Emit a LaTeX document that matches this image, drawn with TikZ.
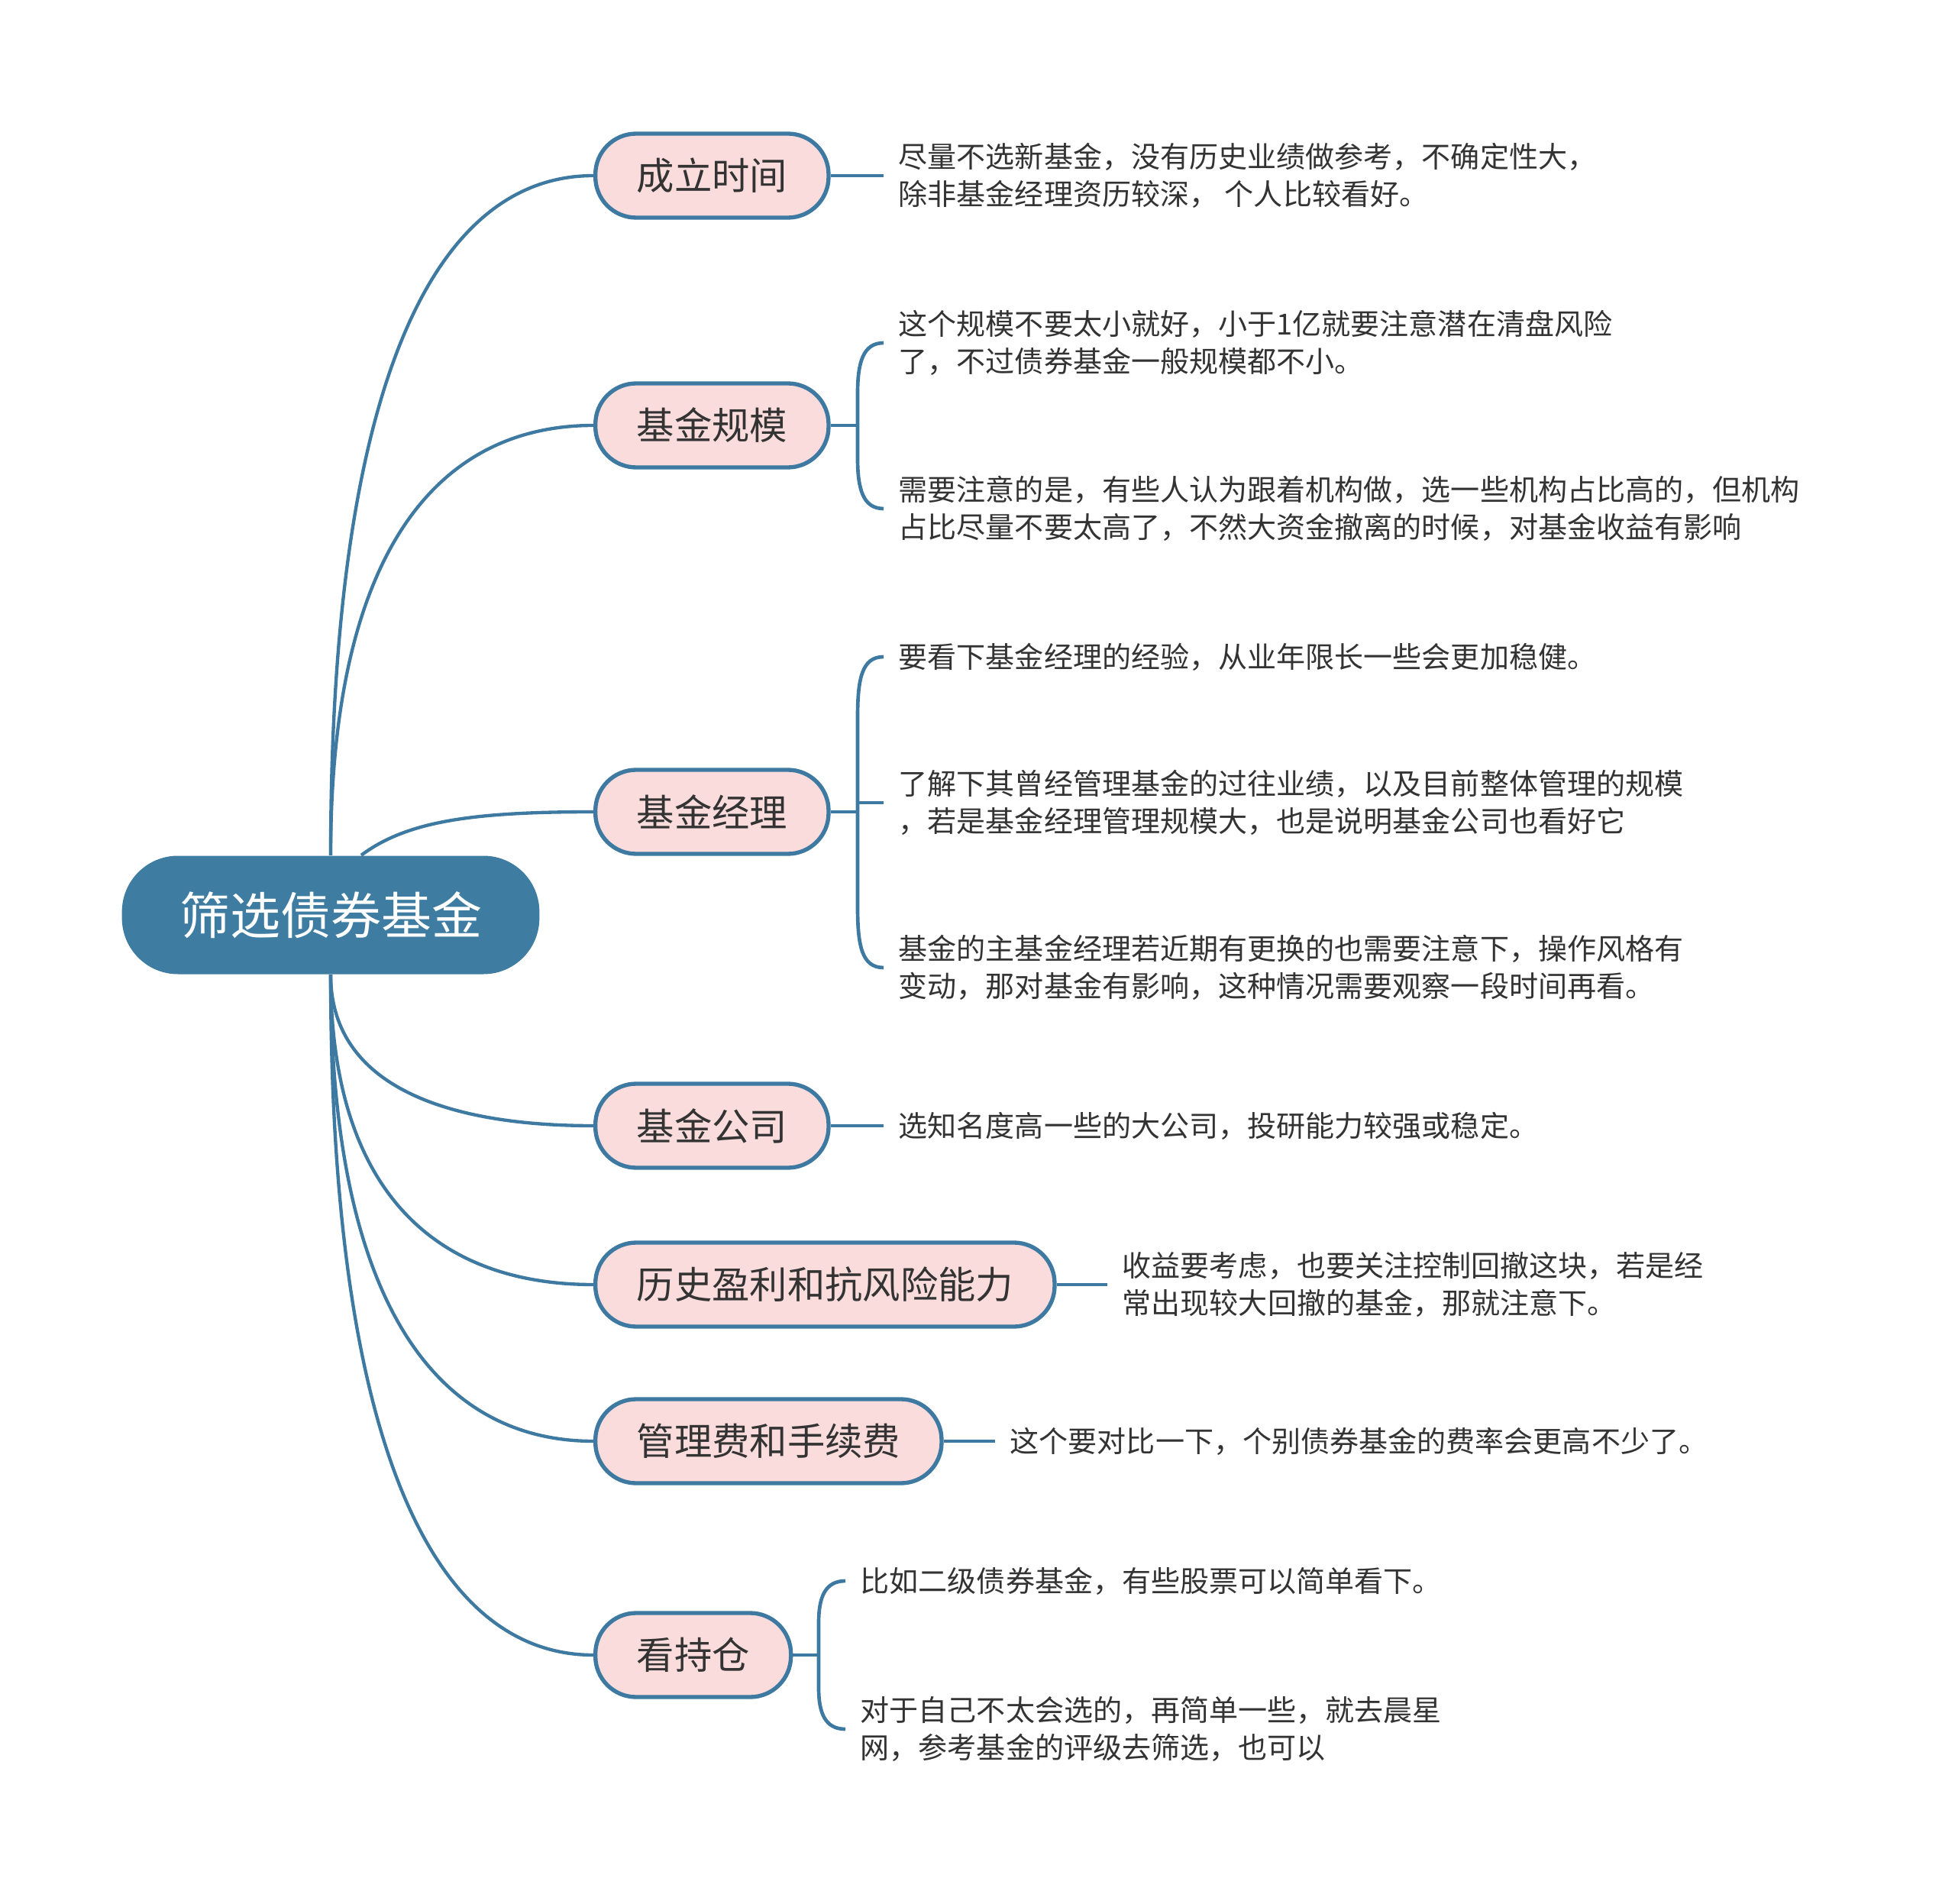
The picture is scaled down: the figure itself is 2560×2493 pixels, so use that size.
\documentclass[tikz,border=0pt]{standalone}
\usepackage{fontspec}
\newfontfamily\cjk{Noto Sans CJK SC}
\usetikzlibrary{calc}
\definecolor{mainblue}{HTML}{3E7CA1}
\definecolor{linkblue}{HTML}{3D79A0}
\definecolor{pinkfill}{HTML}{FADCDC}
\definecolor{txt}{HTML}{333333}
\begin{document}
\begin{tikzpicture}[x=0.3pt,y=-0.3pt,
 link/.style={draw=linkblue,line width=1.3pt},
 bracket/.style={draw=linkblue,line width=1.4pt},
 topic/.style={draw=linkblue,line width=1.6pt,fill=pinkfill,rounded corners=16pt,minimum height=33pt,inner xsep=16.2pt,inner ysep=0pt,font=\cjk\fontsize{14.8}{17}\selectfont,text=txt,anchor=west},
 rootbox/.style={fill=mainblue,rounded corners=22pt,minimum height=46.5pt,minimum width=164pt,inner sep=0pt,font=\cjk\fontsize{19.8}{23}\selectfont,text=white},
 leaf/.style={anchor=west,inner xsep=5.7pt,inner ysep=0pt,align=left,font=\cjk\fontsize{11.42}{14.7}\selectfont,text=txt},
 branch/.style={to path={.. controls ($(\tikztostart)!0.7!(\tikztostart|-\tikztotarget)$) and ($(\tikztotarget)!0.6!(\tikztostart|-\tikztotarget)$) .. (\tikztotarget)}}
]
\useasboundingbox (0,0) rectangle (2560,2493);
\fill[white] (0,0) rectangle (2560,2493);

% root
\node[rootbox] (root) at (433,1198) {筛选债券基金};
\coordinate (r3) at ($(root.north)+(40,0)$);

% topics
\node[topic] (c1) at (777,230) {成立时间};
\node[topic] (c2) at (777,557) {基金规模};
\node[topic] (c3) at (777,1063) {基金经理};
\node[topic] (c4) at (777,1474) {基金公司};
\node[topic] (c5) at (777,1682) {历史盈利和抗风险能力};
\node[topic] (c6) at (777,1887) {管理费和手续费};
\node[topic] (c7) at (777,2167) {看持仓};

% branches from root
\draw[link] (root.north) to[branch] (c1.west);
\draw[link] (root.north) to[branch] (c2.west);
\draw[link] (r3) .. controls ($(r3)+(60,-45)$) and (620,1063) .. (c3.west);
\draw[link] (root.south) to[branch] (c4.west);
\draw[link] (root.south) to[branch] (c5.west);
\draw[link] (root.south) to[branch] (c6.west);
\draw[link] (root.south) to[branch] (c7.west);

% leaves
\node[leaf] (l1) at (1157,230) {尽量不选新基金，没有历史业绩做参考，不确定性大，\\除非基金经理资历较深， 个人比较看好。};
\node[leaf] (l2a) at (1157,449) {这个规模不要太小就好，小于1亿就要注意潜在清盘风险\\了，不过债券基金一般规模都不小。};
\node[leaf] (l2b) at (1157,666) {需要注意的是，有些人认为跟着机构做，选一些机构占比高的，但机构\\占比尽量不要太高了，不然大资金撤离的时候，对基金收益有影响};
\node[leaf] (l3a) at (1157,860) {要看下基金经理的经验，从业年限长一些会更加稳健。};
\node[leaf] (l3b) at (1157,1051) {了解下其曾经管理基金的过往业绩，以及目前整体管理的规模\\，若是基金经理管理规模大，也是说明基金公司也看好它};
\node[leaf] (l3c) at (1157,1267) {基金的主基金经理若近期有更换的也需要注意下，操作风格有\\变动，那对基金有影响，这种情况需要观察一段时间再看。};
\node[leaf] (l4) at (1157,1474) {选知名度高一些的大公司，投研能力较强或稳定。};
\node[leaf] (l5) at (1450,1682) {收益要考虑，也要关注控制回撤这块，若是经\\常出现较大回撤的基金，那就注意下。};
\node[leaf] (l6) at (1303,1887) {这个要对比一下，个别债券基金的费率会更高不少了。};
\node[leaf] (l7a) at (1107,2070) {比如二级债券基金，有些股票可以简单看下。};
\node[leaf] (l7b) at (1107,2264) {对于自己不太会选的，再简单一些，就去晨星\\网，参考基金的评级去筛选，也可以};

% leaf connectors
\draw[link] (c1.east) -- (l1.west);
\draw[link] (c4.east) -- (l4.west);
\draw[link] (c5.east) -- (l5.west);
\draw[link] (c6.east) -- (l6.west);

\coordinate (v2) at (1123,557);
\draw[link] (c2.east) -- (v2);
\draw[bracket] (l2a.west) .. controls (1130,449) and (1123,475) .. (1123,515) -- (1123,600) .. controls (1123,640) and (1130,666) .. (l2b.west);

\coordinate (v3) at (1123,1063);
\coordinate (v3m) at (1123,1051);
\draw[link] (c3.east) -- (v3);
\draw[bracket] (l3a.west) .. controls (1128,860) and (1123,890) .. (1123,940) -- (1123,1187) .. controls (1123,1237) and (1128,1267) .. (l3c.west);
\draw[bracket] (v3m) -- (l3b.west);

\coordinate (v7) at (1072,2167);
\draw[link] (c7.east) -- (v7);
\draw[bracket] (l7a.west) .. controls (1080,2070) and (1072,2092) .. (1072,2125) -- (1072,2210) .. controls (1072,2242) and (1080,2264) .. (l7b.west);
\end{tikzpicture}
\end{document}
